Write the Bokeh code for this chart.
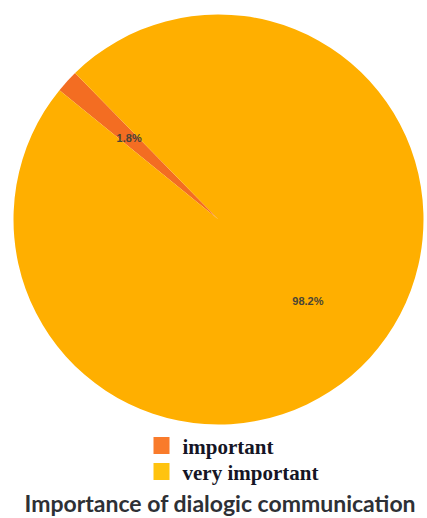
import math
from bokeh.plotting import figure
from bokeh.models import Range1d, ColumnDataSource
from bokeh.core.properties import value
from bokeh.embed import file_html
from bokeh.resources import INLINE

categories = ["important", "very important"]
percentages = [1.8, 98.2]
pie_colors = ["#F36D22", "#FFAF00"]
legend_colors = ["#F97B2B", "#FFC30F"]
title_text = "Importance of dialogic communication"

W, H = 427, 518
def px(x):
    return x
def py(y):
    return H - y

p = figure(width=W, height=H, output_backend="svg", toolbar_location=None,
           x_range=Range1d(0, W), y_range=Range1d(0, H),
           x_axis_type=None, y_axis_type=None, min_border=0)
p.grid.visible = False
p.outline_line_color = None
p.background_fill_color = "white"
p.border_fill_color = "white"

cx, cy, R = 218, 219, 205
rot = math.radians(134.4)
total = sum(percentages)
starts, ends, mids = [], [], []
acc = 0.0
for v in percentages:
    a0 = rot + 2 * math.pi * acc / total
    acc += v
    a1 = rot + 2 * math.pi * acc / total
    starts.append(a0); ends.append(a1); mids.append((a0 + a1) / 2)

src = ColumnDataSource(dict(x=[px(cx)] * 2, y=[py(cy)] * 2, start=starts, end=ends,
                            color=pie_colors))
p.wedge(x="x", y="y", radius=R, start_angle="start", end_angle="end",
        fill_color="color", line_color=None, source=src)

lr = 0.59 * R
labels = [f"{v}%" for v in percentages]
p.text(x=[px(cx) + lr * math.cos(m) for m in mids],
       y=[py(cy) + lr * math.sin(m) for m in mids],
       text=labels, text_font=value("Liberation Sans"), text_font_style="bold",
       text_font_size="11px",
       text_color="#4a4535", text_align="center", text_baseline="middle")

# legend
leg_x = 161
leg_y = [445, 471]
p.rect(x=[px(leg_x)] * 2, y=[py(v) for v in leg_y], width=16, height=17,
       fill_color=legend_colors, line_color=None)
p.text(x=[px(182)] * 2, y=[py(v) for v in [446, 472]], text=categories,
       text_font=value("Liberation Serif"), text_font_style="bold",
       text_font_size="21px", text_color="#151525", text_baseline="middle")

p.text(x=[px(24)], y=[py(502)], text=[title_text],
       text_font=value("Lato"), text_font_style="bold",
       text_font_size="23px", text_color="#2e3035",
       text_align="left", text_baseline="middle")

open("out.html", "w").write(file_html(p, INLINE))
